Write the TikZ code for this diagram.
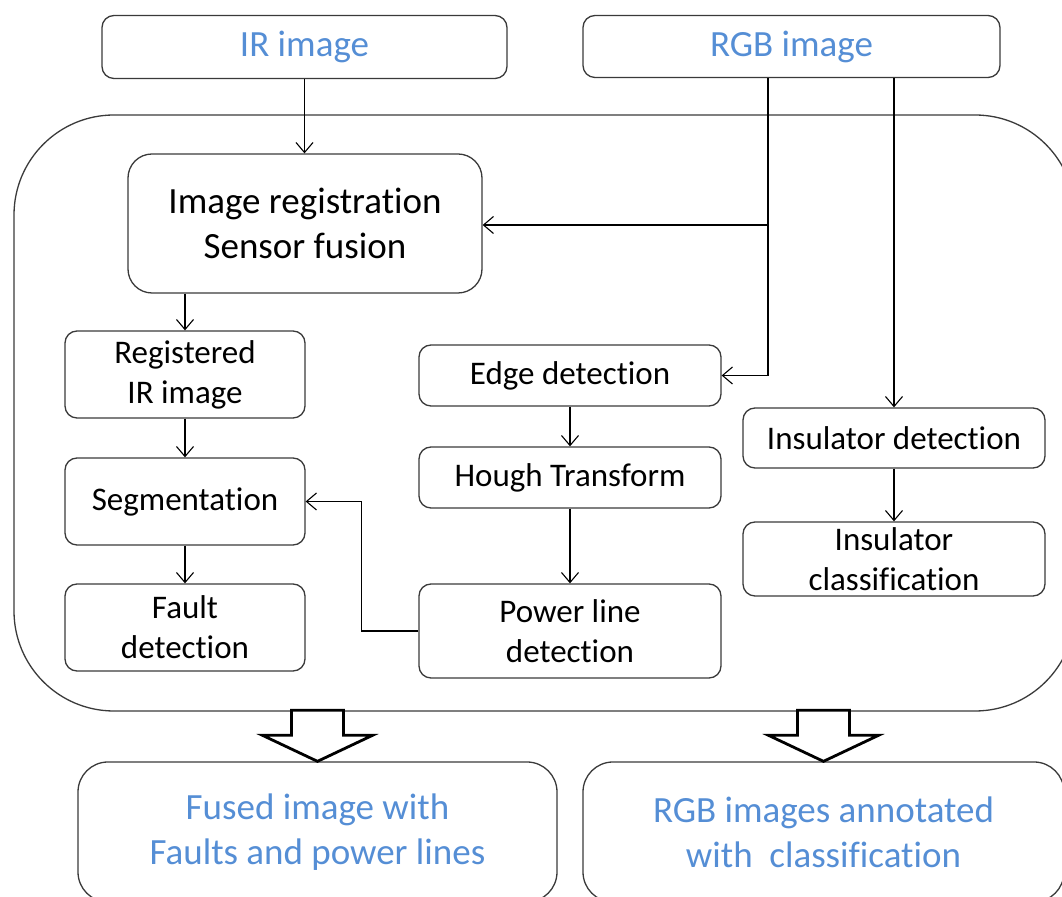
\documentclass[tikz,border=0pt]{standalone}
\usepackage{fontspec}
\setmainfont{Carlito}[RawFeature={-liga;-clig;-calt;-dlig}]
\usetikzlibrary{arrows.meta}
\definecolor{labelblue}{HTML}{558ED5}
\definecolor{boxline}{HTML}{3A3A3A}
\begin{document}
\begin{tikzpicture}[x=0.5pt,y=-0.5pt,
  box/.style={draw=boxline,line width=0.65pt,rounded corners=6pt,align=center,inner sep=0pt,
    font=\fontsize{16.5}{20}\selectfont},
  inbox/.style={box,text=labelblue,font=\fontsize{18.5}{22.5}\selectfont},
  arr/.style={line width=0.55pt,-{Straight Barb[length=5pt,width=8.5pt]}},
  blockarrow/.style={draw=black,line width=1.4pt,fill=white,line join=miter}]
\useasboundingbox (0,0) rectangle (1062,897);
\clip (0,0) rectangle (1062,897);
\node[draw=boxline,line width=0.65pt,rounded corners=50pt,minimum width=530.5pt,minimum height=298pt] (frame) at (544.5,413) {};
\node[inbox,minimum width=202.5pt,minimum height=31.5pt] (ir) at (304.5,47) {IR image};
\node[inbox,minimum width=208.5pt,minimum height=31pt] (rgb) at (791.5,46.5) {RGB image};
\node[box,rounded corners=12pt,minimum width=177pt,minimum height=69.5pt,font=\fontsize{18.5}{22.5}\selectfont] (reg) at (305,223.5) {Image registration\\Sensor fusion};
\node[box,minimum width=120pt,minimum height=43.5pt] (regir) at (185,374.5) {Registered\\IR image};
\node[box,minimum width=120pt,minimum height=43.5pt] (seg) at (185,501.5) {Segmentation};
\node[box,minimum width=120pt,minimum height=43.5pt] (fault) at (185,627.5) {Fault\\detection};
\node[box,minimum width=151pt,minimum height=30.5pt] (edge) at (570,375.5) {Edge detection};
\node[box,minimum width=151pt,minimum height=30.5pt] (hough) at (570,477.5) {Hough Transform};
\node[box,minimum width=151pt,minimum height=47pt] (power) at (570,631) {Power line\\detection};
\node[box,minimum width=151pt,minimum height=30pt] (insdet) at (894,438) {Insulator detection};
\node[box,minimum width=151pt,minimum height=37pt] (inscls) at (894,559) {Insulator\\classification};
\node[inbox,rounded corners=15pt,minimum width=239.5pt,minimum height=70pt] (fused) at (317.5,832) {Fused image with\\Faults and power lines};
\node[inbox,rounded corners=15pt,minimum width=240.5pt,minimum height=70pt] (annot) at (823.5,832) {RGB images annotated\\with~ classification};
\coordinate (rgbtap) at (768,225);
% inputs
\draw[arr] (ir.south) -- (ir.south |- reg.north);
\draw[arr] (rgb.south -| rgbtap) |- (edge.east);
\draw[arr] (rgbtap) -- (rgbtap -| reg.east);
\draw[arr] (insdet.north |- rgb.south) -- (insdet.north);
% IR branch
\draw[arr] (reg.south -| regir) -- (regir.north);
\draw[arr] (regir) -- (seg);
\draw[arr] (seg) -- (fault);
% power lines
\draw[arr] (edge) -- (hough);
\draw[arr] (hough) -- (power);
\draw[arr] (power.west) -- ++(-57,0) |- (seg.east);
% insulators
\draw[arr] (insdet) -- (inscls);
% outputs
\draw[blockarrow] (fused.north) -- ++(-55,-26) -- ++(29,0) -- ++(0,-25) -- ++(52,0) -- ++(0,25) -- ++(29,0) -- cycle;
\draw[blockarrow] (annot.north) -- ++(-55,-26) -- ++(29,0) -- ++(0,-25) -- ++(52,0) -- ++(0,25) -- ++(29,0) -- cycle;
\end{tikzpicture}
\end{document}
